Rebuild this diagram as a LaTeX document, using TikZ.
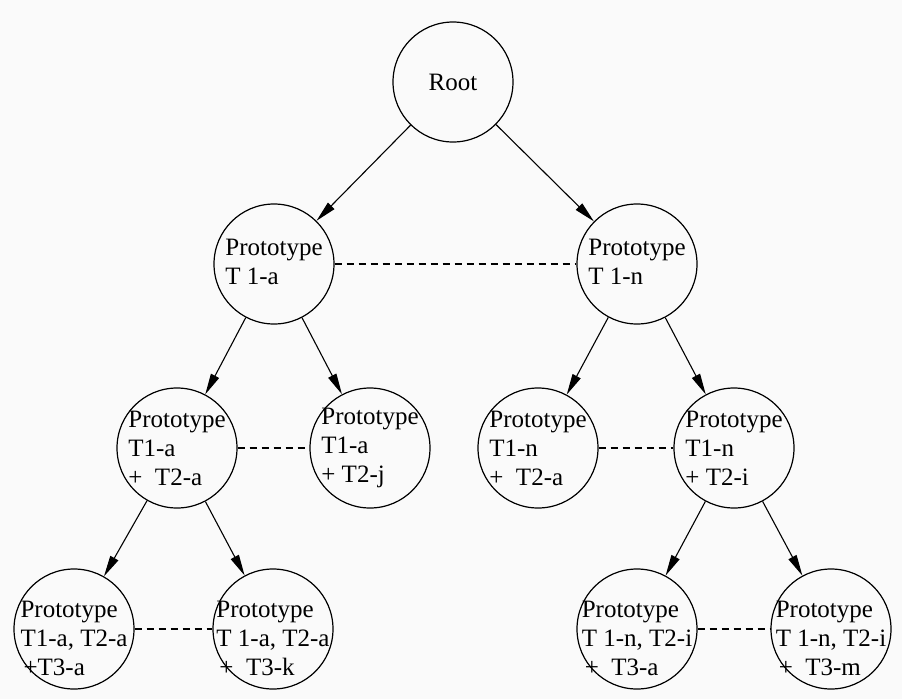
\documentclass[tikz,border=0pt]{standalone}
\usepackage{fontspec}
\setmainfont{Liberation Serif}
\usetikzlibrary{arrows.meta}
\begin{document}
\begin{tikzpicture}[x=1pt,y=-1pt,
  proto/.style={circle, draw, line width=1.2pt, minimum size=120pt, inner sep=0pt},
  txt/.style={align=left, font=\fontsize{25}{29}\selectfont, inner sep=0pt},
  link/.style={line width=1.1pt, -{Triangle[length=21pt,width=9pt]}},
  peer/.style={line width=1.1pt, dash pattern=on 7pt off 5pt}]
% page and background
\fill[gray!4] (0,0) rectangle (902,699);
\useasboundingbox (0,0) rectangle (902,699);

% level 0
\node[proto, label={[txt]center:Root}] (root) at (453,82) {};
% level 1
\node[proto, label={[txt,yshift=2pt]center:{Prototype\\T 1-a}}] (t1a) at (274,264) {};
\node[proto, label={[txt,yshift=2pt]center:{Prototype\\T 1-n}}] (t1n) at (637,264) {};
% level 2
\node[proto, label={[txt]center:{Prototype\\T1-a\\+~~T2-a}}] (aa) at (177,448) {};
\node[proto, label={[txt]center:{Prototype\\T1-a\\+ T2-j}}] (aj) at (370,448) {};
\node[proto, label={[txt]center:{Prototype\\T1-n\\+~~T2-a}}] (na) at (538,448) {};
\node[proto, label={[txt]center:{Prototype\\T1-n\\+ T2-i}}] (ni) at (734,448) {};
% level 3
\node[proto, label={[txt,yshift=-9pt]center:{Prototype\\T1-a, T2-a\\\hspace{3pt}+T3-a}}] (aaa) at (74,629) {};
\node[proto, label={[txt,yshift=-9pt]center:{Prototype\\T 1-a, T2-a\\\hspace{3pt}+~~T3-k}}] (aak) at (273,629) {};
\node[proto, label={[txt,yshift=-9pt]center:{Prototype\\T 1-n, T2-i\\\hspace{3pt}+~~T3-a}}] (nia) at (637,629) {};
\node[proto, label={[txt,yshift=-9pt]center:{Prototype\\T 1-n, T2-i\\\hspace{3pt}+~~T3-m}}] (nim) at (831,629) {};

% tree edges
\draw[link] (root) -- (t1a);
\draw[link] (root) -- (t1n);
\draw[link] (t1a) -- (aa);
\draw[link] (t1a) -- (aj);
\draw[link] (t1n) -- (na);
\draw[link] (t1n) -- (ni);
\draw[link] (aa) -- (aaa);
\draw[link] (aa) -- (aak);
\draw[link] (ni) -- (nia);
\draw[link] (ni) -- (nim);

% sibling links
\draw[peer] (t1a) -- (t1n);
\draw[peer] (aa) -- (aj);
\draw[peer] (na) -- (ni);
\draw[peer] (aaa) -- (aak);
\draw[peer] (nia) -- (nim);
\end{tikzpicture}
\end{document}
